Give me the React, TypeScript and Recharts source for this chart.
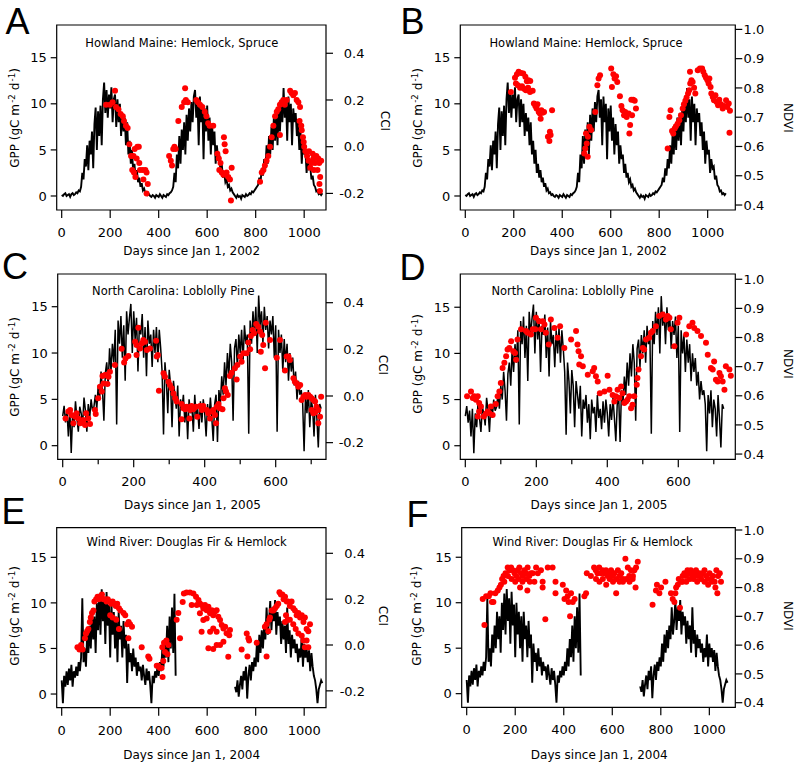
import React from 'react';
import { ComposedChart, Line, Scatter, XAxis, YAxis, ReferenceArea } from 'recharts';

const RED = '#ff0000';
const FONT = '"DejaVu Sans", "Liberation Sans", sans-serif';
const LETTER_FONT = '"Liberation Sans", Arial, sans-serif';

// ---------- tick labels ----------
const xTicksLong = [0, 200, 400, 600, 800, 1000];
const xTicksShortMajor = [0, 200, 400, 600];
const xTicksShortMinor = [100, 300, 500, 700];
const gppTicks = [0, 5, 10, 15];
const cciTicks = [-0.2, 0, 0.2, 0.4];
const ndviTicks = [0.4, 0.5, 0.6, 0.7, 0.8, 0.9, 1.0];

// ---------- GPP series (daily GPP read every few days) ----------
const howlandStart = 0;
const howlandStep = 5;
const gppHowland = [
  0.1, 0.0, 0.2, 0.3, 0.0, 0.1, 0.2, -0.1, 0.2, 0.3, 0.1, 0.2, 0.4, 0.3, 0.6, 0.5,
  1.0, 2.5, 1.8, 4.0, 3.2, 5.5, 2.8, 6.0, 4.5, 7.0, 3.0, 7.8, 9.6, 5.0, 9.2, 6.5, 9.8, 5.5, 10.5,
  12.3, 9.0, 11.5, 8.5, 11.0, 9.5, 11.8, 8.0, 10.5, 11.0, 7.5, 10.5,
  8.0, 10.0, 6.5, 9.0, 7.0, 8.5, 5.5, 8.0, 4.5, 6.0, 3.5, 5.0, 2.5, 3.5,
  2.0, 2.8, 1.5, 2.0, 1.0, 1.4, 0.6, 0.8, 0.3, 0.4, 0.1, 0.2,
  0.0, -0.1, 0.1, 0.0, -0.2, 0.1, 0.0, -0.1, 0.2, 0.0, -0.2, 0.1, 0.0, -0.1, 0.2, 0.1, 0.3, 0.4, 0.6,
  1.0, 2.5, 1.5, 4.5, 3.0, 6.5, 3.5, 7.2, 5.0, 8.0, 4.5, 8.8, 6.0, 9.5, 7.0, 10.2, 8.0, 10.8,
  11.5, 8.5, 10.5, 5.5, 10.8, 8.0, 10.0, 4.0, 9.5, 7.0, 9.8,
  6.0, 8.5, 4.5, 7.8, 5.5, 7.0, 3.5, 5.5, 4.0, 4.5, 2.5, 3.5, 2.0, 2.5, 1.5, 1.8, 1.0, 1.2, 0.6, 0.8,
  0.4, 0.2, 0.0, -0.2, 0.1, -0.1, 0.0, -0.3, 0.1, 0.0, -0.1, 0.2, 0.0, 0.1, 0.3, 0.2, 0.5, 0.4, 0.6, 0.8, 1.0,
  1.2, 2.0, 1.5, 3.0, 2.2, 4.0, 3.0, 5.5, 3.5, 6.5, 4.5, 7.5, 5.0, 8.5, 6.0, 9.0, 5.5, 9.5, 7.0, 10.2,
  8.0, 11.7, 8.5, 10.5, 6.0, 10.8, 8.0, 10.0, 5.5, 9.5, 8.0,
  9.0, 6.5, 8.0, 5.0, 7.0, 3.5, 6.0, 4.5, 5.0, 2.5, 4.0, 3.0, 3.2, 1.8, 2.2, 1.2, 1.0, 0.5, 0.6, 0.2, 0.3, 0.1, 0.3,
];

const dukeStart = 0;
const dukeStep = 4;
const gppDuke = [
  3.2, 4.3, 2.5, 3.8, 1.0, 4.0, -0.8, 3.5, 2.0, 4.8, 3.0, 1.5, 4.2, 3.5, 2.2, 5.2, 3.8, 1.5, 4.5, 3.0, 5.0, 3.8, 4.2,
  5.5, 4.0, 6.5, 5.0, 8.0, 6.0, 2.7, 7.8, 9.0, 6.5, 10.5, 8.0, 11.0,
  9.0, 12.5, 2.3, 13.5, 11.0, 14.0, 9.5, 13.0, 7.0, 14.5, 12.0, 13.8, 15.3, 10.0, 14.5,
  11.5, 13.8, 8.0, 13.0, 12.0, 14.2, 9.5, 12.8, 7.5, 13.5, 11.0, 12.0, 8.5, 12.5, 10.0, 12.8, 9.0,
  12.5, 10.5, 8.0, 1.2, 9.0, 7.0, 3.5, 8.2, 6.5, 2.0, 7.0, 5.5, 4.0, 6.5, 1.0, 5.0,
  4.0, 5.5, 2.5, 4.5, 0.7, 5.0, 3.5, 4.2, 1.5, 5.5, 3.0, 4.0, 1.8, 4.8, 2.5, 5.0, 3.5, 1.0, 4.5, 2.8, 5.2, 3.0, 0.5, 4.5, 5.5,
  0.4, 6.0, 4.5, 7.5, 5.5, 9.0, 6.5, 10.0, 7.5, 11.0, 9.0, 2.7, 10.5, 11.5, 8.5, 12.0, 10.0, 12.5, 9.0, 13.0, 11.0, 12.0,
  1.3, 13.5, 11.0, 14.5, 12.0, 15.0, 10.0, 16.2, 13.0, 14.5, 11.0, 15.0, 12.5, 14.0, 10.5, 13.5, 12.0, 14.0, 9.5, 13.0,
  1.5, 12.5, 10.0, 12.0, 8.0, 11.5, 9.0, 11.0, 7.0, 10.0, 8.0, 9.5, 6.5, 8.0, 5.0, 7.0, 5.5, 6.0, 4.5, -0.6,
  5.5, 3.5, 6.0, 2.0, 5.0, 4.0, 1.0, 5.5, 3.0, -0.2, 4.5, 4.0,
];

const windStep = 5;
const windStart1 = 0;
const gppWind1 = [
  1.5, -1.0, 2.0, 0.8, 2.5, 1.0, 2.8, 1.5, 3.2, 0.8, 2.5, 1.8, 3.0, 2.0, 3.5, 2.5,
  4.0, 10.5, 3.5, 5.0, 3.0, 6.5, 4.5, 7.5, 5.0, 9.0, 6.0, 8.5, 4.5, 10.0, 7.0, 11.0,
  6.5, 11.5, 8.0, 10.5, 5.5, 11.2, 7.5, 9.8, 4.0, 10.0, 6.5, 9.0, 5.0, 8.5, 3.5, 9.0,
  6.0, 7.5, 4.0, 8.0, 5.0, 6.5, 1.2, 5.5, 3.5, 4.5, 2.5, 5.0, 3.0, 4.0, 2.0, 3.5,
  2.5, 3.0, 1.5, 3.2, 2.0, 1.0, 2.8, 1.5, 2.5, 1.0, -1.0, 2.0, 1.2, 2.5, 1.8, 3.0,
  2.0, 3.5, 2.5, 5.0, 3.0, 6.0, 4.0, 7.5, 3.5, 8.5, 5.0, 9.5, 4.5, 11.0, 2.0,
];
const windGapDay = 590;
const windStart2 = 715;
const gppWind2 = [
  0.8, 0.2, 1.5, -0.3, 1.0, 2.0, 0.5, 2.5, 1.5, 3.0, -0.5, 2.0, 3.2, 1.5, 3.5, 2.5,
  4.0, 3.0, 5.5, 3.5, 6.5, 4.5, 7.0, 5.0, 7.5, 6.0, 9.5, 6.5, 8.0, 10.2, 7.0, 9.5,
  8.0, 10.3, 6.5, 9.0, 7.5, 8.5, 5.5, 8.0, 6.0, 7.5, 4.5, 9.5, 5.5, 7.0, 4.0, 6.5,
  5.0, 6.0, 4.5, 5.5, 3.5, 5.0, 4.0, 6.5, 3.0, 5.5, 4.0, 5.0, 3.5, 4.8, 2.5, 4.5,
  3.0, 2.0, 1.5, 0.5, -1.0, 0.5, 1.0, 1.5, 1.2,
];

// ---------- red index points [day, value] ----------
const cciHowland: [number, number][] = [
  [183, 0.18], [199, 0.18], [210, 0.19], [220, 0.24], [224, 0.17], [234, 0.16], [243, 0.14], [252, 0.13], [257, 0.11],
  [265, 0.09], [272, 0.08], [279, 0.01], [286, -0.04], [291, -0.10], [296, -0.04], [298, -0.11], [301, -0.01],
  [304, -0.13], [309, -0.05], [312, 0.0], [318, 0.0], [320, -0.07], [323, -0.10], [334, -0.10], [337, -0.14],
  [345, -0.10], [350, -0.11], [355, -0.16], [350, -0.20],
  [443, -0.04], [450, -0.06], [455, -0.08], [460, -0.01], [465, 0.0], [470, -0.01], [481, 0.11], [495, 0.17],
  [505, 0.19], [509, 0.25], [512, 0.20], [520, 0.19], [555, 0.20], [562, 0.19], [570, 0.18], [580, 0.17],
  [590, 0.15], [597, 0.13], [604, 0.10], [610, 0.09], [625, 0.09], [642, -0.03], [648, -0.05], [655, -0.07],
  [669, 0.04], [672, 0.01], [676, -0.02], [650, -0.10], [660, -0.11], [667, -0.12], [680, -0.11], [687, -0.13],
  [694, -0.14], [701, -0.09], [698, -0.23],
  [818, -0.15], [825, -0.11], [832, -0.10], [838, -0.08], [845, -0.06], [852, -0.04], [859, 0.0], [866, 0.04],
  [873, 0.09], [880, 0.13], [887, 0.15], [893, 0.16], [900, 0.18], [907, 0.19], [914, 0.20], [920, 0.18],
  [900, 0.05], [928, 0.20], [942, 0.24], [948, 0.23], [955, 0.22], [962, 0.23], [969, 0.20], [976, 0.19],
  [983, 0.17], [981, 0.11], [988, 0.09], [990, 0.07], [995, 0.04], [998, 0.02], [1000, 0.0], [1005, -0.02],
  [1012, -0.04], [1018, -0.06], [1025, -0.09], [1031, -0.07], [1038, -0.05], [1045, -0.07], [1050, -0.04],
  [1055, -0.10], [1062, -0.07], [1066, -0.13], [1063, -0.16], [1065, -0.19], [1020, -0.02], [1035, -0.03],
  [1040, -0.10], [1058, -0.05], [1070, -0.06],
];

const ndviHowland: [number, number][] = [
  [188, 0.786], [205, 0.835], [213, 0.847], [220, 0.855], [230, 0.851], [239, 0.849], [248, 0.838], [254, 0.823],
  [261, 0.826], [268, 0.824], [209, 0.815], [217, 0.809], [226, 0.801], [234, 0.806], [242, 0.797], [250, 0.792],
  [259, 0.801], [267, 0.786], [278, 0.790], [283, 0.747], [289, 0.738], [294, 0.730], [298, 0.744], [303, 0.718],
  [308, 0.713], [314, 0.724], [319, 0.715], [325, 0.718], [311, 0.695], [358, 0.724], [341, 0.633], [347, 0.619],
  [352, 0.639], [349, 0.650],
  [491, 0.576], [495, 0.593], [501, 0.610], [498, 0.644], [506, 0.633], [512, 0.667], [519, 0.656], [505, 0.565],
  [536, 0.718], [545, 0.809], [550, 0.832], [556, 0.843], [602, 0.866], [605, 0.803], [611, 0.847], [616, 0.832],
  [622, 0.840], [627, 0.820], [638, 0.772], [644, 0.738], [649, 0.724], [655, 0.707], [660, 0.718], [666, 0.701],
  [674, 0.713], [680, 0.673], [677, 0.644], [685, 0.760], [693, 0.760], [699, 0.756], [704, 0.730], [688, 0.707],
  [835, 0.593], [842, 0.701], [847, 0.724], [853, 0.653], [858, 0.644], [864, 0.661], [869, 0.669], [876, 0.678],
  [883, 0.690], [890, 0.707], [897, 0.730], [902, 0.744], [908, 0.756], [913, 0.767], [919, 0.781], [924, 0.792],
  [928, 0.815], [933, 0.826], [927, 0.855], [938, 0.820], [944, 0.801], [949, 0.781], [959, 0.860], [968, 0.866],
  [977, 0.866], [982, 0.855], [988, 0.843], [993, 0.835], [999, 0.826], [1004, 0.815], [1007, 0.832],
  [1012, 0.803], [1015, 0.781], [1021, 0.769], [1026, 0.758], [1032, 0.775], [1037, 0.752], [1043, 0.741],
  [1048, 0.760], [1055, 0.744], [1062, 0.730], [1069, 0.738], [1076, 0.758], [1081, 0.735], [1087, 0.747],
  [1092, 0.722], [1090, 0.647],
];

const cciDuke: [number, number][] = [
  [8, -0.096], [16, -0.067], [21, -0.060], [25, -0.081], [30, -0.117], [35, -0.089], [39, -0.074], [44, -0.096],
  [49, -0.117], [54, -0.110], [58, -0.103], [63, -0.124], [66, -0.074], [72, -0.096], [77, -0.120], [91, -0.060],
  [93, -0.077], [100, -0.010], [105, 0.040], [110, 0.019], [112, 0.086], [115, 0.054], [119, 0.090], [124, 0.090],
  [126, 0.051], [129, 0.083], [133, 0.104], [147, 0.133], [166, 0.203], [173, 0.144], [177, 0.161], [185, 0.171],
  [204, 0.233], [208, 0.219], [213, 0.293], [208, 0.176], [218, 0.204], [223, 0.226], [227, 0.240], [232, 0.233],
  [237, 0.197], [246, 0.204], [263, 0.237], [265, 0.169], [268, 0.176], [271, 0.023], [284, 0.097], [288, 0.083],
  [298, 0.061], [302, 0.047], [307, 0.033], [312, 0.011], [317, -0.010], [321, -0.024], [335, -0.034],
  [340, -0.053], [335, -0.100], [345, -0.057], [349, -0.046], [357, -0.096], [359, -0.060], [363, -0.043],
  [368, -0.057], [376, -0.046], [379, -0.089], [387, -0.043], [392, -0.060], [396, -0.043], [406, -0.060],
  [410, -0.074], [415, -0.096], [420, -0.067], [424, -0.060], [429, -0.081], [432, -0.117], [434, -0.046],
  [439, -0.034], [443, -0.053], [450, -0.057], [453, -0.010], [457, 0.033], [460, 0.019], [465, 0.004],
  [471, 0.086], [476, 0.100], [485, 0.119], [490, 0.071], [492, 0.133], [500, 0.169], [504, 0.147], [509, 0.183],
  [518, 0.183], [523, 0.229], [528, 0.200], [530, 0.257], [535, 0.283], [539, 0.269], [545, 0.309], [551, 0.297],
  [556, 0.276], [558, 0.190], [562, 0.261], [565, 0.219], [570, 0.119], [572, 0.314], [584, 0.240], [603, 0.164],
  [612, 0.240], [626, 0.109], [631, 0.169], [636, 0.169], [640, 0.154], [650, 0.076], [654, 0.061], [659, 0.054],
  [664, 0.040], [669, 0.047], [673, -0.017], [678, -0.003], [683, 0.004], [687, -0.003], [692, 0.004],
  [697, -0.003], [701, -0.010], [706, -0.017], [711, -0.024], [715, -0.046], [720, -0.060], [725, -0.089],
  [720, -0.117], [728, -0.003], [701, -0.060], [706, -0.074], [711, -0.071],
];

const ndviDuke: [number, number][] = [
  [5, 0.598], [16, 0.615], [21, 0.592], [25, 0.598], [30, 0.586], [35, 0.598], [39, 0.575], [44, 0.563],
  [39, 0.546], [35, 0.529], [52, 0.529], [58, 0.538], [63, 0.546], [68, 0.540], [72, 0.563], [77, 0.534],
  [86, 0.572], [91, 0.598], [96, 0.615], [100, 0.644], [105, 0.695], [110, 0.713], [115, 0.736], [119, 0.759],
  [124, 0.764], [129, 0.787], [135, 0.753], [140, 0.747], [143, 0.724], [147, 0.793], [157, 0.828], [171, 0.822],
  [176, 0.816], [185, 0.810], [190, 0.828], [197, 0.828], [199, 0.868], [208, 0.856], [213, 0.828], [218, 0.856],
  [223, 0.845], [227, 0.816], [235, 0.776], [241, 0.862], [251, 0.833], [260, 0.799], [267, 0.839], [279, 0.764],
  [298, 0.793], [312, 0.822], [316, 0.776], [319, 0.753], [321, 0.707], [326, 0.736], [331, 0.701], [345, 0.672],
  [359, 0.684], [363, 0.695], [368, 0.667], [373, 0.649], [379, 0.609], [392, 0.615], [401, 0.669], [406, 0.621],
  [415, 0.603], [420, 0.580], [424, 0.598], [429, 0.621], [434, 0.592], [439, 0.632], [443, 0.609], [448, 0.575],
  [453, 0.580], [457, 0.586], [462, 0.598], [467, 0.557], [471, 0.569], [476, 0.598], [483, 0.638], [485, 0.661],
  [488, 0.690], [495, 0.736], [500, 0.764], [504, 0.759], [509, 0.793], [518, 0.799], [523, 0.816], [528, 0.822],
  [537, 0.839], [546, 0.874], [556, 0.879], [565, 0.862], [570, 0.874], [575, 0.868], [579, 0.828], [589, 0.770],
  [598, 0.851], [603, 0.868], [622, 0.810], [631, 0.839], [640, 0.851], [645, 0.833], [654, 0.822], [664, 0.805],
  [678, 0.782], [683, 0.741], [692, 0.695], [697, 0.690], [701, 0.718], [706, 0.655], [711, 0.649], [716, 0.678],
  [720, 0.667], [725, 0.649], [730, 0.621], [734, 0.701], [744, 0.690], [748, 0.669],
];

const cciWind: [number, number][] = [
  [65, -0.01], [73, -0.02], [80, 0.0], [86, -0.02], [96, 0.03], [100, 0.05], [105, 0.06], [110, 0.07], [116, 0.10],
  [120, 0.12], [125, 0.14], [131, 0.15], [135, 0.19], [142, 0.20], [148, 0.21], [153, 0.20], [160, 0.21],
  [166, 0.22], [172, 0.20], [178, 0.20], [185, 0.19], [190, 0.20], [197, 0.19], [204, 0.18], [210, 0.19],
  [217, 0.18], [223, 0.17], [229, 0.18], [236, 0.16], [242, 0.15], [200, 0.13], [210, 0.12], [225, 0.11],
  [236, 0.07], [255, 0.14], [262, 0.13], [270, 0.09], [276, 0.10], [282, 0.09], [290, 0.08], [275, 0.03],
  [330, -0.01], [357, -0.05], [362, -0.06],
  [392, -0.09], [398, -0.09], [405, -0.10], [412, -0.10], [416, -0.14], [419, -0.07], [415, -0.01], [422, 0.01],
  [426, -0.03], [432, 0.02], [436, -0.04], [440, 0.0], [474, 0.11], [481, 0.14], [488, 0.03],
  [499, 0.188], [504, 0.225], [515, 0.229], [529, 0.229], [543, 0.225], [554, 0.210], [564, 0.196], [570, 0.181],
  [577, 0.174], [584, 0.159], [591, 0.174], [598, 0.152], [605, 0.167], [612, 0.138], [619, 0.152], [625, 0.130],
  [632, 0.145], [639, 0.152], [646, 0.123], [653, 0.109], [660, 0.087], [667, 0.072], [674, 0.080], [680, 0.051],
  [691, 0.043], [694, 0.065], [570, 0.138], [584, 0.109], [598, 0.116], [612, 0.058], [625, 0.072], [639, 0.058],
  [577, 0.058], [605, -0.014], [625, -0.017], [639, 0.0], [653, 0.0], [667, 0.014], [687, -0.051], [536, 0.174],
  [557, 0.174],
  [742, -0.02], [763, 0.05], [770, 0.03], [773, 0.02], [766, -0.05], [804, 0.01], [838, 0.08], [845, 0.09],
  [852, 0.06], [845, -0.05], [856, 0.11], [859, 0.12], [866, 0.15], [873, 0.15], [880, 0.16], [887, 0.17],
  [893, 0.18], [898, 0.23], [904, 0.22], [910, 0.22], [915, 0.20], [921, 0.21], [928, 0.19], [934, 0.19],
  [941, 0.17], [948, 0.19], [955, 0.16], [962, 0.15], [969, 0.13], [976, 0.14], [983, 0.12], [990, 0.13],
  [997, 0.10], [1003, 0.12], [1010, 0.07], [1017, 0.06], [1024, 0.09], [925, 0.13], [932, 0.11], [941, 0.11],
  [955, 0.09], [965, 0.07], [976, 0.05], [990, 0.04], [997, 0.02], [1003, -0.01], [1010, 0.02], [1017, -0.01],
  [921, 0.10],
];

const ndviWind: [number, number][] = [
  [66, 0.76], [73, 0.67], [80, 0.77], [91, 0.77], [98, 0.78], [104, 0.75], [110, 0.75], [118, 0.78], [128, 0.79],
  [135, 0.80], [141, 0.81], [146, 0.83], [152, 0.84], [160, 0.85], [169, 0.87], [176, 0.86], [183, 0.87],
  [190, 0.86], [197, 0.85], [204, 0.84], [210, 0.86], [217, 0.87], [224, 0.85], [231, 0.84], [238, 0.86],
  [245, 0.85], [251, 0.87], [258, 0.84], [265, 0.85], [272, 0.85], [279, 0.82], [286, 0.87], [293, 0.85],
  [306, 0.86], [313, 0.82], [313, 0.80], [324, 0.69], [334, 0.87], [354, 0.87], [366, 0.82], [366, 0.78],
  [396, 0.81], [403, 0.76], [410, 0.79], [416, 0.77], [420, 0.75], [426, 0.70], [430, 0.78], [437, 0.75],
  [445, 0.76], [155, 0.82], [170, 0.84], [185, 0.83], [200, 0.82], [215, 0.83], [230, 0.82], [245, 0.83],
  [260, 0.82], [220, 0.80], [250, 0.79],
  [485, 0.77], [492, 0.78], [495, 0.85], [512, 0.84], [525, 0.87], [532, 0.86], [539, 0.85], [546, 0.87],
  [553, 0.85], [560, 0.86], [567, 0.85], [574, 0.86], [581, 0.84], [588, 0.85], [595, 0.86], [602, 0.84],
  [609, 0.85], [616, 0.83], [623, 0.86], [630, 0.84], [637, 0.85], [644, 0.83], [654, 0.90], [664, 0.87],
  [670, 0.84], [677, 0.86], [684, 0.83], [691, 0.86], [698, 0.87], [705, 0.89], [696, 0.80], [533, 0.83],
  [547, 0.82], [561, 0.83], [575, 0.81], [589, 0.83], [603, 0.82], [616, 0.78], [630, 0.82], [644, 0.82],
  [658, 0.83], [671, 0.82], [685, 0.84],
  [766, 0.74], [780, 0.79], [784, 0.81], [794, 0.78], [801, 0.80], [819, 0.82], [842, 0.78], [849, 0.76],
  [856, 0.75], [860, 0.78], [863, 0.80], [870, 0.81], [874, 0.83], [879, 0.73], [884, 0.82], [890, 0.84],
  [897, 0.85], [904, 0.84], [910, 0.86], [917, 0.85], [924, 0.86], [931, 0.84], [938, 0.85], [945, 0.86],
  [952, 0.84], [959, 0.85], [966, 0.83], [973, 0.85], [980, 0.86], [987, 0.84], [994, 0.83], [1001, 0.85],
  [1008, 0.83], [1015, 0.84], [1022, 0.82], [1029, 0.86], [1036, 0.84], [1043, 0.85], [1048, 0.82],
  [1033, 0.78], [890, 0.82], [905, 0.82], [920, 0.83], [935, 0.83], [950, 0.82], [965, 0.84], [980, 0.82],
  [995, 0.81], [1010, 0.82], [1025, 0.80],
];

// ---------- tables built from the arrays ----------
type LinePt = { day: number; gpp: number | null };
const toLine = (vals: number[], start: number, step: number): LinePt[] =>
  vals.map((g, i) => ({ day: start + i * step, gpp: g }));
const toDots = (pts: [number, number][]) => pts.map(([day, v]) => ({ day, v }));

const lineHowland = toLine(gppHowland, howlandStart, howlandStep);
const lineDuke = toLine(gppDuke, dukeStart, dukeStep);
const lineWind: LinePt[] = [
  ...toLine(gppWind1, windStart1, windStep),
  { day: windGapDay, gpp: null },
  ...toLine(gppWind2, windStart2, windStep),
];

type PanelProps = {
  ox: number; oy: number; w: number; h: number;
  box: [number, number, number, number];
  xDomain: [number, number];
  xMajor: number[]; xMinor: number[];
  yDomain: [number, number];
  rDomain: [number, number];
  rTicks: number[];
  rLabelOffset: number;
  lineWidth: number;
  line: LinePt[];
  dots: { day: number; v: number }[];
};

const dotShape = (p: any) => <circle cx={p.cx} cy={p.cy} r={3} fill={RED} />;

function Panel(p: PanelProps) {
  const L = p.box[0] - p.ox;
  const T = p.box[1] - p.oy;
  const R = p.box[2] - p.ox;
  const B = p.box[3] - p.oy;
  const wl = 40, wr = 40, hx = 30;
  const margin = { left: L - wl, top: T, right: p.w - R - wr, bottom: p.h - B - hx };
  const majors = new Set(p.xMajor);

  const xTick = (t: any) => {
    const v = t.payload.value;
    const major = majors.has(v);
    return (
      <g>
        <line x1={t.x} x2={t.x} y1={B} y2={B + (major ? 8 : 5)} stroke="#000" strokeWidth={1.2} />
        {major && (
          <text x={t.x} y={B + 27} textAnchor="middle" fontSize={13} fontFamily={FONT} fill="#000">
            {v}
          </text>
        )}
      </g>
    );
  };
  const yTick = (t: any) => (
    <g>
      <line x1={L - 6} x2={L} y1={t.y} y2={t.y} stroke="#000" strokeWidth={1.2} />
      <text x={L - 10} y={t.y} dy="0.36em" textAnchor="end" fontSize={13} fontFamily={FONT} fill="#000">
        {t.payload.value}
      </text>
    </g>
  );
  const rTick = (t: any) => (
    <g>
      <line x1={R} x2={R + 7} y1={t.y} y2={t.y} stroke="#000" strokeWidth={1.2} />
      <text x={R + p.rLabelOffset} y={t.y} dy="0.36em" textAnchor="end" fontSize={13} fontFamily={FONT} fill="#000">
        {Number(t.payload.value).toFixed(1)}
      </text>
    </g>
  );

  return (
    <div style={{ position: 'absolute', left: p.ox, top: p.oy, width: p.w, height: p.h }}>
      <ComposedChart width={p.w} height={p.h} data={p.line} margin={margin}>
        <XAxis
          xAxisId="x" dataKey="day" type="number" domain={p.xDomain} allowDataOverflow
          ticks={[...p.xMajor, ...p.xMinor]} interval={0} tick={xTick} tickLine={false} axisLine={false} height={hx}
        />
        <YAxis
          yAxisId="left" type="number" domain={p.yDomain} allowDataOverflow ticks={gppTicks}
          interval={0} tick={yTick} tickLine={false} axisLine={false} width={wl}
        />
        <YAxis
          yAxisId="right" orientation="right" type="number" domain={p.rDomain} allowDataOverflow
          ticks={p.rTicks} interval={0} tick={rTick} tickLine={false} axisLine={false} width={wr}
        />
        <Line
          xAxisId="x" yAxisId="left" dataKey="gpp" type="linear" stroke="#000" strokeWidth={p.lineWidth}
          strokeLinejoin="miter" dot={false} activeDot={false} connectNulls={false} isAnimationActive={false}
        />
        <Scatter
          xAxisId="x" yAxisId="right" data={p.dots} dataKey="v" shape={dotShape} isAnimationActive={false}
        />
        <ReferenceArea
          xAxisId="x" yAxisId="left" x1={p.xDomain[0]} x2={p.xDomain[1]} y1={p.yDomain[0]} y2={p.yDomain[1]}
          fill="none" fillOpacity={0} stroke="#000" strokeWidth={1.2} ifOverflow="visible"
        />
      </ComposedChart>
    </div>
  );
}

function Txt({ x, y, size, rot = 0, family = FONT, children }: any) {
  return (
    <div
      style={{
        position: 'absolute', left: x, top: y, transform: `translate(-50%,-50%) rotate(${rot}deg)`,
        fontSize: size, fontFamily: family, whiteSpace: 'nowrap', lineHeight: 1, color: '#000',
      }}
    >
      {children}
    </div>
  );
}

const Sup = ({ children }: any) => (
  <span style={{ fontSize: '0.72em', position: 'relative', top: '-0.5em', marginLeft: '0.15em' }}>{children}</span>
);

const GppLabel = ({ x, y }: { x: number; y: number }) => (
  <Txt x={x} y={y} size={12} rot={-90}>
    GPP (gC m<Sup>-2</Sup> d<Sup>-1</Sup>)
  </Txt>
);

export default function App() {
  return (
    <div style={{ position: 'absolute', left: 0, top: 0, width: 796, height: 763, background: '#fff', overflow: 'hidden' }}>
      <Panel ox={0} oy={0} w={398} h={250} box={[56.7, 25, 326, 210]} xDomain={[-20.6, 1090]}
        xMajor={xTicksLong} xMinor={[]} yDomain={[-1.52, 18.55]} rDomain={[-0.271, 0.521]} rTicks={cciTicks}
        rLabelOffset={38.5} lineWidth={1.9} line={lineHowland} dots={toDots(cciHowland)} />
      <Panel ox={398} oy={0} w={398} h={250} box={[460.3, 25, 735.3, 210]} xDomain={[-20.6, 1114]}
        xMajor={xTicksLong} xMinor={[]} yDomain={[-1.52, 18.55]} rDomain={[0.383, 1.015]} rTicks={ndviTicks}
        rLabelOffset={29} lineWidth={1.9} line={lineHowland} dots={toDots(ndviHowland)} />
      <Panel ox={0} oy={250} w={398} h={255} box={[57.7, 274, 326, 459.3]} xDomain={[-14.1, 741.7]}
        xMajor={xTicksShortMajor} xMinor={xTicksShortMinor} yDomain={[-1.47, 18.53]} rDomain={[-0.2714, 0.523]}
        rTicks={cciTicks} rLabelOffset={38} lineWidth={1.5} line={lineDuke} dots={toDots(cciDuke)} />
      <Panel ox={398} oy={250} w={398} h={255} box={[460.3, 274, 735.3, 459.3]} xDomain={[-14.1, 760.6]}
        xMajor={xTicksShortMajor} xMinor={xTicksShortMinor} yDomain={[-1.47, 18.6]} rDomain={[0.382, 1.018]}
        rTicks={ndviTicks} rLabelOffset={29} lineWidth={1.5} line={lineDuke} dots={toDots(ndviDuke)} />
      <Panel ox={0} oy={505} w={398} h={258} box={[56.7, 527.7, 326, 707.7]} xDomain={[-20.6, 1090]}
        xMajor={xTicksLong} xMinor={[]} yDomain={[-1.5, 18.25]} rDomain={[-0.2735, 0.5117]} rTicks={cciTicks}
        rLabelOffset={39} lineWidth={1.9} line={lineWind} dots={toDots(cciWind)} />
      <Panel ox={398} oy={505} w={398} h={258} box={[461.7, 527.7, 735.3, 707.3]} xDomain={[-20.6, 1107]}
        xMajor={xTicksLong} xMinor={[]} yDomain={[-1.5, 18.25]} rDomain={[0.384, 1.008]} rTicks={ndviTicks}
        rLabelOffset={29} lineWidth={1.9} line={lineWind} dots={toDots(ndviWind)} />

      {/* panel letters */}
      <Txt x={17.5} y={22} size={36} family={LETTER_FONT}>A</Txt>
      <Txt x={412.5} y={21.5} size={36} family={LETTER_FONT}>B</Txt>
      <Txt x={15} y={267} size={36} family={LETTER_FONT}>C</Txt>
      <Txt x={412.5} y={267.5} size={36} family={LETTER_FONT}>D</Txt>
      <Txt x={13.5} y={512} size={36} family={LETTER_FONT}>E</Txt>
      <Txt x={417.5} y={515} size={36} family={LETTER_FONT}>F</Txt>

      {/* site titles */}
      <Txt x={181.8} y={43.5} size={11.5}>Howland Maine: Hemlock, Spruce</Txt>
      <Txt x={586} y={43.5} size={11.5}>Howland Maine: Hemlock, Spruce</Txt>
      <Txt x={173.3} y={292} size={11.5}>North Carolina: Loblolly Pine</Txt>
      <Txt x={572.7} y={292} size={11.5}>North Carolina: Loblolly Pine</Txt>
      <Txt x={186.7} y={543} size={11.5}>Wind River: Douglas Fir &amp; Hemlock</Txt>
      <Txt x={592.7} y={543} size={11.5}>Wind River: Douglas Fir &amp; Hemlock</Txt>

      {/* x titles */}
      <Txt x={191.7} y={251} size={12}>Days since Jan 1, 2002</Txt>
      <Txt x={598.5} y={251} size={12}>Days since Jan 1, 2002</Txt>
      <Txt x={192.5} y={505} size={12}>Days since Jan 1, 2005</Txt>
      <Txt x={599} y={505} size={12}>Days since Jan 1, 2005</Txt>
      <Txt x={191.7} y={755} size={12}>Days since Jan 1, 2004</Txt>
      <Txt x={599.3} y={755} size={12}>Days since Jan 1, 2004</Txt>

      {/* left axis titles */}
      <GppLabel x={15} y={117.5} />
      <GppLabel x={417.7} y={117.5} />
      <GppLabel x={15} y={366.7} />
      <GppLabel x={417.7} y={364} />
      <GppLabel x={15} y={615.7} />
      <GppLabel x={417} y={616} />

      {/* right axis titles */}
      <Txt x={385} y={121} size={12} rot={90}>CCI</Txt>
      <Txt x={383} y={365} size={12} rot={90}>CCI</Txt>
      <Txt x={383} y={616} size={12} rot={90}>CCI</Txt>
      <Txt x={788} y={117.5} size={12} rot={90}>NDVI</Txt>
      <Txt x={788} y={364} size={12} rot={90}>NDVI</Txt>
      <Txt x={788} y={616} size={12} rot={90}>NDVI</Txt>
    </div>
  );
}
